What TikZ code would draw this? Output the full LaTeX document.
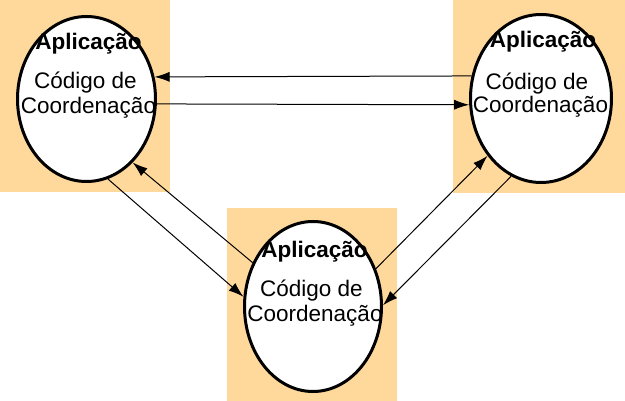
\documentclass[tikz,border=0pt]{standalone}
\usepackage{fontspec}
\setmainfont{Liberation Sans}
\usetikzlibrary{shapes.geometric,arrows.meta}
\definecolor{bgorange}{HTML}{FFD99B}
\tikzset{
  bgbox/.style={fill=bgorange,draw=none},
  ell/.style={ellipse,draw=black,fill=white,line width=3pt,inner sep=0pt},
  title/.style={anchor=base,inner sep=0pt,font=\fontsize{22.5}{25}\selectfont\bfseries},
  body/.style={anchor=base,inner sep=0pt,font=\fontsize{22.5}{25}\selectfont},
  conn/.style={line width=1pt,-{Latex[length=15pt,width=10pt]}}
}
\begin{document}
\begin{tikzpicture}[x=1pt,y=-1pt]
\useasboundingbox (0,0) rectangle (625,401);
% backgrounds
\fill[bgorange] (0,0) rectangle (170,192);
\fill[bgorange] (453,0) rectangle (625,193);
\fill[bgorange] (227,208) rectangle (397,401);
% ellipses
\node[ell,minimum width=138pt,minimum height=165pt] (L) at (86.5,99) {};
\node[ell,minimum width=141pt,minimum height=168pt] (R) at (541,98.5) {};
\node[ell,minimum width=137pt,minimum height=170pt] (B) at (313,306.5) {};
% texts
\node[title] (Lt) at (88.5,50) {Aplicação};
\node[body] (Lc) at (85.5,89) {Código de};
\node[body] (Lk) at (88.5,114) {Coordenação};
\node[title] (Rt) at (543,48) {Aplicação};
\node[body] (Rc) at (537,90) {Código de};
\node[body] (Rk) at (540.5,113) {Coordenação};
\node[title] (Bt) at (314.5,258) {Aplicação};
\node[body] (Bc) at (311.5,297) {Código de};
\node[body] (Bk) at (315,322) {Coordenação};
% connectors
\draw[conn] (R.162.0) -- (L.18.7);
\draw[conn] (L.-4.9) -- (R.185.2);
\draw[conn] (B.144.8) -- (L.-54.9);
\draw[conn] (L.-75.8) -- (B.172.3);
\draw[conn] (B.31.0) -- (R.227.8);
\draw[conn] (R.249.7) -- (B.1.2);
\end{tikzpicture}
\end{document}
